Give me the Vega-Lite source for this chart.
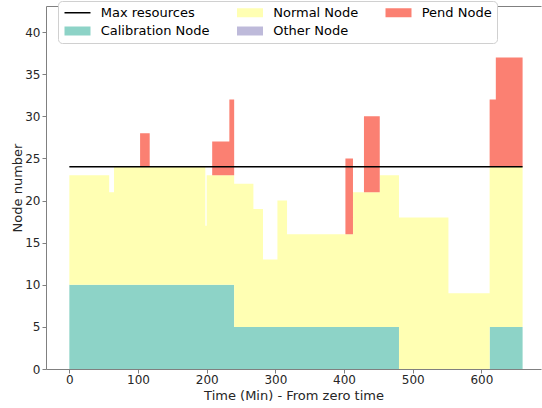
{
  "$schema": "https://vega.github.io/schema/vega-lite/v6.json",
  "width": 495,
  "height": 363,
  "autosize": {"type": "none"},
  "padding": {"left": 46, "top": 6, "right": 1, "bottom": 39},
  "config": {
    "font": "DejaVu Sans",
    "view": {"stroke": null},
    "axis": {
      "domainColor": "#808080",
      "tickColor": "#808080",
      "tickSize": 4,
      "labelFontSize": 12,
      "labelColor": "#262626",
      "titleFontSize": 13,
      "titleFontWeight": "normal",
      "titleColor": "#262626",
      "grid": false,
      "labelFlush": false
    }
  },
  "layer": [
    {
      "data": {
        "values": [
          {"t": 0, "series": "Calibration Node", "n": 10}, {"t": 0, "series": "Normal Node", "n": 13}, {"t": 0, "series": "Other Node", "n": 0}, {"t": 0, "series": "Pend Node", "n": 0},
          {"t": 58, "series": "Calibration Node", "n": 10}, {"t": 58, "series": "Normal Node", "n": 11}, {"t": 58, "series": "Other Node", "n": 0}, {"t": 58, "series": "Pend Node", "n": 0},
          {"t": 65, "series": "Calibration Node", "n": 10}, {"t": 65, "series": "Normal Node", "n": 14}, {"t": 65, "series": "Other Node", "n": 0}, {"t": 65, "series": "Pend Node", "n": 0},
          {"t": 103, "series": "Calibration Node", "n": 10}, {"t": 103, "series": "Normal Node", "n": 14}, {"t": 103, "series": "Other Node", "n": 0}, {"t": 103, "series": "Pend Node", "n": 4},
          {"t": 117, "series": "Calibration Node", "n": 10}, {"t": 117, "series": "Normal Node", "n": 14}, {"t": 117, "series": "Other Node", "n": 0}, {"t": 117, "series": "Pend Node", "n": 0},
          {"t": 198, "series": "Calibration Node", "n": 10}, {"t": 198, "series": "Normal Node", "n": 7}, {"t": 198, "series": "Other Node", "n": 0}, {"t": 198, "series": "Pend Node", "n": 0},
          {"t": 200, "series": "Calibration Node", "n": 10}, {"t": 200, "series": "Normal Node", "n": 13}, {"t": 200, "series": "Other Node", "n": 0}, {"t": 200, "series": "Pend Node", "n": 0},
          {"t": 208, "series": "Calibration Node", "n": 10}, {"t": 208, "series": "Normal Node", "n": 13}, {"t": 208, "series": "Other Node", "n": 0}, {"t": 208, "series": "Pend Node", "n": 4},
          {"t": 233, "series": "Calibration Node", "n": 10}, {"t": 233, "series": "Normal Node", "n": 13}, {"t": 233, "series": "Other Node", "n": 0}, {"t": 233, "series": "Pend Node", "n": 9},
          {"t": 240, "series": "Calibration Node", "n": 5}, {"t": 240, "series": "Normal Node", "n": 17}, {"t": 240, "series": "Other Node", "n": 0}, {"t": 240, "series": "Pend Node", "n": 0},
          {"t": 268, "series": "Calibration Node", "n": 5}, {"t": 268, "series": "Normal Node", "n": 14}, {"t": 268, "series": "Other Node", "n": 0}, {"t": 268, "series": "Pend Node", "n": 0},
          {"t": 282, "series": "Calibration Node", "n": 5}, {"t": 282, "series": "Normal Node", "n": 8}, {"t": 282, "series": "Other Node", "n": 0}, {"t": 282, "series": "Pend Node", "n": 0},
          {"t": 303, "series": "Calibration Node", "n": 5}, {"t": 303, "series": "Normal Node", "n": 15}, {"t": 303, "series": "Other Node", "n": 0}, {"t": 303, "series": "Pend Node", "n": 0},
          {"t": 317, "series": "Calibration Node", "n": 5}, {"t": 317, "series": "Normal Node", "n": 11}, {"t": 317, "series": "Other Node", "n": 0}, {"t": 317, "series": "Pend Node", "n": 0},
          {"t": 402, "series": "Calibration Node", "n": 5}, {"t": 402, "series": "Normal Node", "n": 11}, {"t": 402, "series": "Other Node", "n": 0}, {"t": 402, "series": "Pend Node", "n": 9},
          {"t": 413, "series": "Calibration Node", "n": 5}, {"t": 413, "series": "Normal Node", "n": 16}, {"t": 413, "series": "Other Node", "n": 0}, {"t": 413, "series": "Pend Node", "n": 0},
          {"t": 429, "series": "Calibration Node", "n": 5}, {"t": 429, "series": "Normal Node", "n": 16}, {"t": 429, "series": "Other Node", "n": 0}, {"t": 429, "series": "Pend Node", "n": 9},
          {"t": 452, "series": "Calibration Node", "n": 5}, {"t": 452, "series": "Normal Node", "n": 18}, {"t": 452, "series": "Other Node", "n": 0}, {"t": 452, "series": "Pend Node", "n": 0},
          {"t": 480, "series": "Calibration Node", "n": 0}, {"t": 480, "series": "Normal Node", "n": 18}, {"t": 480, "series": "Other Node", "n": 0}, {"t": 480, "series": "Pend Node", "n": 0},
          {"t": 552, "series": "Calibration Node", "n": 0}, {"t": 552, "series": "Normal Node", "n": 9}, {"t": 552, "series": "Other Node", "n": 0}, {"t": 552, "series": "Pend Node", "n": 0},
          {"t": 612, "series": "Calibration Node", "n": 5}, {"t": 612, "series": "Normal Node", "n": 19}, {"t": 612, "series": "Other Node", "n": 0}, {"t": 612, "series": "Pend Node", "n": 8},
          {"t": 621, "series": "Calibration Node", "n": 5}, {"t": 621, "series": "Normal Node", "n": 19}, {"t": 621, "series": "Other Node", "n": 0}, {"t": 621, "series": "Pend Node", "n": 13},
          {"t": 660, "series": "Calibration Node", "n": 5}, {"t": 660, "series": "Normal Node", "n": 19}, {"t": 660, "series": "Other Node", "n": 0}, {"t": 660, "series": "Pend Node", "n": 13}
        ]
      },
      "mark": {"type": "area", "interpolate": "step-after", "opacity": 1},
      "encoding": {
        "x": {
          "field": "t",
          "type": "quantitative",
          "scale": {"domain": [-34, 686.8], "nice": false, "zero": false},
          "axis": {"orient": "bottom", "title": "Time (Min) - From zero time", "values": [0, 100, 200, 300, 400, 500, 600], "labelPadding": 1, "titlePadding": 4}
        },
        "y": {
          "field": "n",
          "type": "quantitative",
          "stack": "zero",
          "scale": {"domain": [0, 43.1], "nice": false},
          "axis": {"title": "Node number", "values": [0, 5, 10, 15, 20, 25, 30, 35, 40], "labelPadding": 2, "titlePadding": 0}
        },
        "color": {
          "field": "series",
          "type": "nominal",
          "scale": {
            "domain": ["Max resources", "Calibration Node", "Normal Node", "Other Node", "Pend Node"],
            "range": ["#000000", "#8dd3c7", "#ffffb3", "#bebada", "#fb8072"]
          },
          "legend": {
            "orient": "none",
            "legendX": 12,
            "legendY": -5,
            "columns": 3,
            "title": null,
            "symbolSize": 100,
            "symbolType": {"expr": "datum.value === 'Max resources' ? 'M-1,-0.15H4.2V0.15H-1Z' : 'M-1,-0.9H4.2V0.9H-1Z'"},
            "symbolStrokeWidth": 0,
            "symbolOpacity": 1,
            "labelFontSize": 13,
            "labelFont": "DejaVu Sans",
            "labelColor": "#000000",
            "labelOffset": 24.7,
            "labelLimit": 300,
            "columnPadding": 25.5,
            "rowPadding": 4.5,
            "padding": 5,
            "strokeColor": "#d0d0d0",
            "fillColor": "#ffffff",
            "cornerRadius": 4
          }
        },
        "order": {"field": "series", "sort": "ascending"}
      }
    },
    {
      "data": {
        "values": [
          {"t": 0, "n": 24, "series": "Max resources"},
          {"t": 660, "n": 24, "series": "Max resources"}
        ]
      },
      "mark": {"type": "line", "strokeWidth": 1.5},
      "encoding": {
        "x": {
          "field": "t",
          "type": "quantitative",
          "axis": {"orient": "top", "labels": false, "ticks": false, "title": null}
        },
        "y": {"field": "n", "type": "quantitative"},
        "color": {"field": "series", "type": "nominal", "legend": null}
      }
    }
  ],
  "resolve": {"axis": {"x": "independent"}}
}
